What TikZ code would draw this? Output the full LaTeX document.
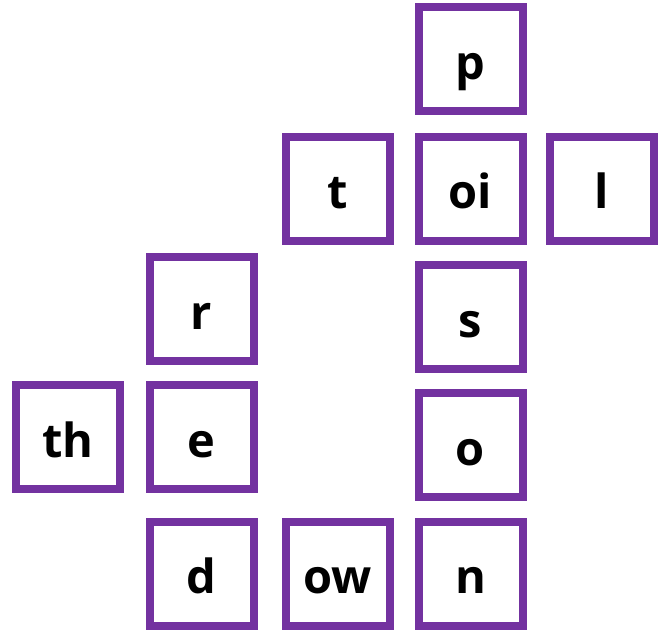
\documentclass[tikz,border=0pt]{standalone}
\usepackage{fontspec}
\setmainfont{Open Sans}
\definecolor{tilepurple}{RGB}{115,50,160}
\begin{document}
\begin{tikzpicture}[x=1pt,y=-1pt,
  tile/.style={draw=tilepurple,line width=8pt,fill=white,minimum size=104pt,
    inner sep=0pt,text height=40pt,text depth=0pt,
    font=\fontsize{47}{52}\selectfont\bfseries}]
\useasboundingbox (0,0) rectangle (662,631);
\node[tile] (p)  at (470.5,59.5)  {p};
\node[tile] (t)  at (337.7,188.7) {t};
\node[tile] (oi) at (470.5,188.7) {oi};
\node[tile] (l)  at (601.5,188.7) {l};
\node[tile] (r)  at (201.5,309.2) {r};
\node[tile] (s)  at (470.5,317.2) {s};
\node[tile] (th) at (67.7,437.3)  {th};
\node[tile] (e)  at (201.5,437.3) {e};
\node[tile] (o)  at (470.5,445.3) {o};
\node[tile] (d)  at (201.5,573.5) {d};
\node[tile] (ow) at (337.7,573.5) {ow};
\node[tile] (n)  at (470.5,573.5) {n};
\end{tikzpicture}
\end{document}
